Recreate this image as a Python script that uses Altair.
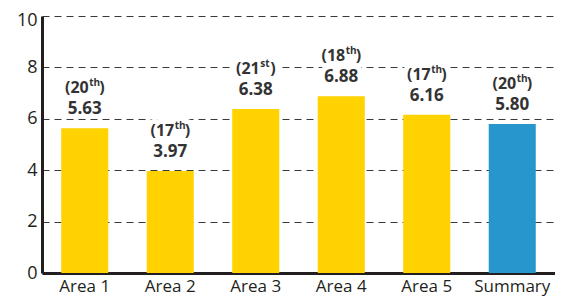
import altair as alt
import pandas as pd

categories = ["Area 1", "Area 2", "Area 3", "Area 4", "Area 5", "Summary"]
values = [5.63, 3.97, 6.38, 6.88, 6.16, 5.80]
value_labels = ["5.63", "3.97", "6.38", "6.88", "6.16", "5.80"]
rank_numbers = ["(20", "(17", "(21", "(18", "(17", "(20"]
rank_suffixes = ["th", "th", "st", "th", "th", "th"]
groups = ["area", "area", "area", "area", "area", "summary"]
y_ticks = [0, 2, 4, 6, 8, 10]

df = pd.DataFrame({
    "cat": categories,
    "value": values,
    "vlabel": value_labels,
    "rnum": rank_numbers,
    "rsuf": rank_suffixes,
    "close": [")"] * len(categories),
    "group": groups,
})

FONT = "Open Sans"
DARK = "#231f20"
TXT = "#333333"

x = alt.X("cat:N", sort=categories, title=None,
          scale=alt.Scale(paddingInner=0.45, paddingOuter=0.225),
          axis=alt.Axis(labelAngle=0, labelFontSize=17, labelColor=DARK,
                        labelPadding=5, ticks=False, domainWidth=3,
                        domainColor=DARK, grid=False, labelFont=FONT))
y = alt.Y("value:Q", title=None,
          scale=alt.Scale(domain=[0, 10], nice=False),
          axis=alt.Axis(values=y_ticks, labelFontSize=18, labelColor=DARK,
                        labelPadding=5, ticks=False, domainWidth=3,
                        domainColor=DARK, grid=True, gridDash=[7, 5],
                        gridColor="#3a3a3a", gridWidth=1.2, labelFont=FONT,
                        labelOffset=alt.condition("datum.value == 10",
                                                  alt.value(4), alt.value(0))))

base = alt.Chart(df)
xs = alt.X("cat:N", sort=categories)

bars = base.mark_bar().encode(
    x=x, y=y,
    color=alt.Color("group:N", legend=None,
                    scale=alt.Scale(domain=["area", "summary"],
                                    range=["#FFD200", "#2796CD"])),
)


def labels(halo):
    extra = dict(stroke="white", strokeWidth=10, strokeJoin="round") if halo else {}
    vtext = base.mark_text(baseline="alphabetic", dy=-14, fontSize=17,
                           fontWeight="bold", color=TXT, font=FONT, **extra).encode(
        x=xs, y="value:Q", text="vlabel:N")
    rnum = base.mark_text(baseline="alphabetic", align="right", dx=4, dy=-35,
                          fontSize=16, fontWeight="bold", color=TXT, font=FONT,
                          **extra).encode(x=xs, y="value:Q", text="rnum:N")
    rsuf = base.mark_text(baseline="alphabetic", align="left", dx=4.5, dy=-42,
                          fontSize=10, fontWeight="bold", color=TXT, font=FONT,
                          **extra).encode(x=xs, y="value:Q", text="rsuf:N")
    rclose = base.mark_text(baseline="alphabetic", align="left", dx=14.5, dy=-35,
                            fontSize=16, fontWeight="bold", color=TXT, font=FONT,
                            **extra).encode(x=xs, y="value:Q", text="close:N")
    return [vtext, rnum, rsuf, rclose]


chart = alt.layer(bars, *labels(True), *labels(False)).properties(
    width=513, height=257,
    autosize=alt.AutoSizeParams(type="none"),
    padding={"left": 34, "top": 8, "right": 0, "bottom": 23},
).configure_view(stroke=None)

chart.save("out.html", embed_options={"renderer": "svg", "actions": False})
